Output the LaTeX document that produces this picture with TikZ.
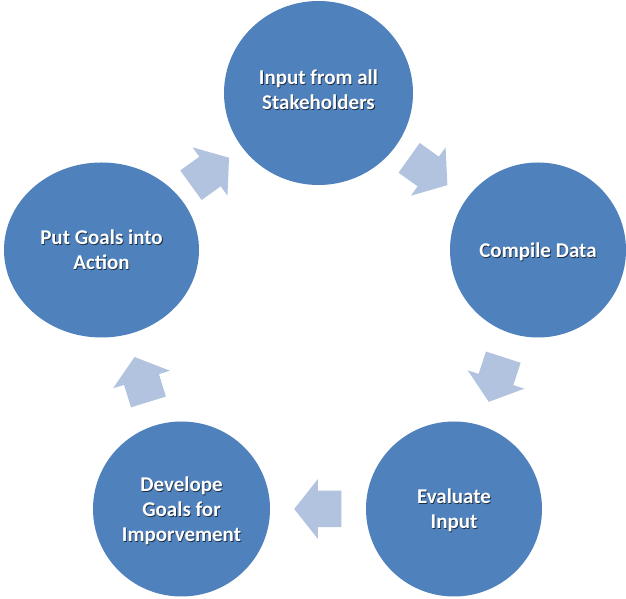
\documentclass[tikz,border=0pt]{standalone}
\usepackage{fontspec}
\setmainfont{Carlito}
\usetikzlibrary{shapes.geometric,calc}

\definecolor{stageblue}{RGB}{79,129,189}
\definecolor{arrowblue}{RGB}{178,195,223}

% white caption with a soft dark shadow behind it
\newcommand\stagecaption[1]{%
  \makebox[0pt]{\raisebox{-1pt}[0pt][0pt]{\hspace*{1.6pt}\color{stageblue!35!black}\begin{tabular}{@{}c@{}}#1\end{tabular}}}%
  \makebox[0pt]{\color{white}\begin{tabular}{@{}c@{}}#1\end{tabular}}}

\tikzset{
  stage/.style={ellipse, fill=stageblue, inner sep=0pt},
  caption/.style={inner sep=0pt, font=\fontsize{21}{25}\selectfont\bfseries},
  pics/cyclearrow/.style={code={
    \fill[arrowblue] (-23.5,-18.25) -- (0,-18.25) -- (0,-29.75) -- (23.5,0)
      -- (0,29.75) -- (0,18.25) -- (-23.5,18.25) -- cycle;
  }},
}

% block arrow halfway between two stages, pointing from the first to the second
\newcommand\linkstages[2]{%
  \path let \p1 = ($(#2)-(#1)$), \n1 = {atan2(\y1,\x1)} in
    pic[rotate=\n1] at ($(#1)!0.5!(#2)$) {cyclearrow};}

\begin{document}
\begin{tikzpicture}[x=1pt,y=1pt]
  \fill[white] (0,0) rectangle (626,599);
  \useasboundingbox (0,0) rectangle (626,599);

  % the five stages of the cycle
  \node[stage, minimum width=189, minimum height=184] (input)    at (318.5,506) {};
  \node[stage, minimum width=176, minimum height=175] (compile)  at (538,349)   {};
  \node[stage, minimum width=176, minimum height=175] (evaluate) at (454,90)    {};
  \node[stage, minimum width=177, minimum height=175] (develop)  at (181.5,90)  {};
  \node[stage, minimum width=195, minimum height=175] (action)   at (101.5,349) {};

  % their captions
  \node[caption] (input-text)    at ([yshift=1]input.center)     {\stagecaption{Input from all\\Stakeholders}};
  \node[caption] (compile-text)  at ([yshift=-2.5]compile.center)  {\stagecaption{Compile Data}};
  \node[caption] (evaluate-text) at ([yshift=-2.5]evaluate.center) {\stagecaption{Evaluate\\Input}};
  \node[caption] (develop-text)  at ([yshift=-3]develop.center)  {\stagecaption{Develope\\Goals for\\Imporvement}};
  \node[caption] (action-text)   at ([yshift=-2]action.center)   {\stagecaption{Put Goals into\\Action}};

  % arrows running clockwise round the cycle
  \linkstages{input.center}{compile.center}
  \linkstages{compile.center}{evaluate.center}
  \linkstages{evaluate.center}{develop.center}
  \linkstages{develop.center}{action.center}
  \linkstages{action.center}{input.center}
\end{tikzpicture}
\end{document}
